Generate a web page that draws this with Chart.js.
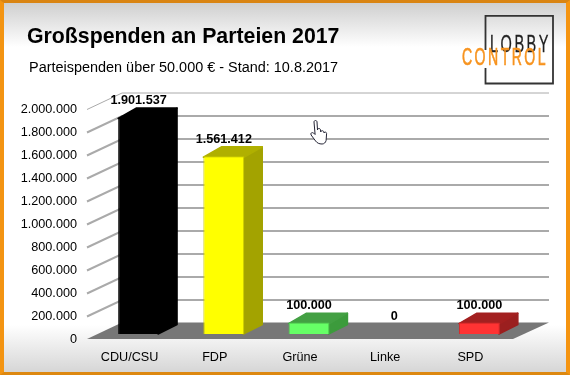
<!DOCTYPE html>
<html>
<head>
<meta charset="utf-8">
<script src="https://cdn.jsdelivr.net/npm/chart.js@4"></script>
<style>
  body { margin: 0; overflow: hidden; }
  #frame {
    position: absolute; left: 0; top: 0; width: 570px; height: 375px; box-sizing: border-box;
    border-style: solid; border-width: 3px 4px 3px 4px;
    border-color: #d98412 #f59410 #dd8810 #f39412;
    background: linear-gradient(#cfcfcf 0, #ffffff 44px, #ffffff 322px, #d6d6d6 369px);
  }
  canvas { position: absolute; left: 0; top: 0; }
  .txt { position: absolute; font-family: "Liberation Sans", Arial, sans-serif; color: #000; white-space: nowrap; }
  #title { left: 27px; top: 24px; font-size: 21.3px; font-weight: bold; }
  #subtitle { left: 29px; top: 59px; font-size: 14.45px; }
  svg { position: absolute; left: 0; top: 0; }
</style>
</head>
<body>
<div id="frame"></div>
<canvas id="spendenChart" width="570" height="375"></canvas>
<div class="txt" id="title">Großspenden an Parteien 2017</div>
<div class="txt" id="subtitle">Parteispenden über 50.000 € - Stand: 10.8.2017</div>
<svg width="570" height="375">
  <!-- logo -->
  <path d="M485.500 50 V15.800 H553 V83.500 H485.500 V68" fill="none" stroke="#333" stroke-width="1.800"/>
  <text x="490" y="52" font-family="Liberation Sans" font-size="23" letter-spacing="4" textLength="61" lengthAdjust="spacingAndGlyphs" fill="#222" stroke="#222" stroke-width="0.300">LOBBY</text>
  <text x="462" y="65" font-family="Liberation Sans" font-size="23" letter-spacing="4" textLength="86" lengthAdjust="spacingAndGlyphs" fill="#f7931e" stroke="#f7931e" stroke-width="0.600">CONTROL</text>
  <!-- mouse pointer -->
  <path d="M314 122 c0 -2 3 -2 3 0 l0.500 8 c0 -2 3 -2 3 0 l0.300 2 c0 -2 3 -1.500 3 0 l0.300 1 c0.500 -1.500 2.500 -1 2.500 0.500 l-0.500 7 c-0.500 2 -2 3.500 -4 3.500 c-3 0 -5 -1 -6.500 -3 l-4.500 -6 c-1 -2 1 -3 2.500 -2 l1.500 1.500 z" fill="#fff" stroke="#223" stroke-width="1"/>
</svg>
<script>
// Values
const parties = ['CDU/CSU', 'FDP', 'Grüne', 'Linke', 'SPD'];
const donations = [1901537, 1561412, 100000, 0, 100000];
const donationLabels = ['1.901.537', '1.561.412', '100.000', '0', '100.000'];
const yTickLabels = ['0', '200.000', '400.000', '600.000', '800.000', '1.000.000', '1.200.000', '1.400.000', '1.600.000', '1.800.000', '2.000.000'];
const frontColors = ['#000000', '#ffff00', '#66ff66', '#000000', '#ff3333'];
const edgeColors = ['#000000', '#c9c900', '#4fc94f', '#000000', '#d92b2b'];
const sideColors = ['#000000', '#a3a300', '#3c9b3c', '#000000', '#9b1f1f'];
const topColors = ['#000000', '#b0b000', '#43a043', '#000000', '#a32020'];

// Fake 3D: back wall, floor, bar depth and value labels
const wallX = 35, wallY = 17.5;
const barShiftX = 9, barShiftY = 6;
const depthX = 18, depthY = 9.5;
const foreshorten = 0.99; // bars stand further back than the axis plane

const fake3d = {
  id: 'fake3d',
  beforeDatasetsDraw(chart) {
    const ctx = chart.ctx;
    const x = chart.scales.x, y = chart.scales.y;
    const y0 = y.getPixelForValue(0);

    // floor
    ctx.fillStyle = '#777777';
    ctx.beginPath();
    ctx.moveTo(x.left, y0 - 1);
    ctx.lineTo(x.right, y0 - 1);
    ctx.lineTo(x.right + wallX + 1, y0 - wallY);
    ctx.lineTo(x.left + wallX, y0 - wallY);
    ctx.closePath();
    ctx.fill();

    // grid lines on side and back wall
    ctx.strokeStyle = '#aaaaaa';
    y.ticks.forEach((tick, i) => {
      if (tick.value === 0) return;
      const py = y.getPixelForValue(tick.value);
      ctx.lineWidth = i === y.ticks.length - 1 ? 1 : 2;
      ctx.beginPath();
      ctx.moveTo(x.left, py - 0.5);
      ctx.lineTo(x.left + wallX, py - wallY + 0.5);
      ctx.lineTo(x.right + wallX + 1, py - wallY + 0.5);
      ctx.stroke();
    });

    // side and top faces, then shift the bars themselves back onto the floor
    ctx.save();
    ctx.translate(barShiftX, -barShiftY);
    ctx.translate(0, y0);
    ctx.scale(1, foreshorten);
    ctx.translate(0, -y0);
    ctx.lineJoin = 'round';
    ctx.lineWidth = 1.5;
    chart.getDatasetMeta(0).data.forEach((bar, i) => {
      if (donations[i] === 0) return;
      const left = bar.x - bar.width / 2, right = bar.x + bar.width / 2;
      ctx.fillStyle = ctx.strokeStyle = sideColors[i];
      ctx.beginPath();
      ctx.moveTo(right - 1, bar.y);
      ctx.lineTo(right + depthX, bar.y - depthY);
      ctx.lineTo(right + depthX, bar.base - depthY);
      ctx.lineTo(right - 1, bar.base);
      ctx.closePath();
      ctx.fill();
      ctx.stroke();
      ctx.fillStyle = ctx.strokeStyle = topColors[i];
      ctx.beginPath();
      ctx.moveTo(left, bar.y + 1);
      ctx.lineTo(left + depthX, bar.y - depthY);
      ctx.lineTo(right + depthX, bar.y - depthY);
      ctx.lineTo(right, bar.y + 1);
      ctx.closePath();
      ctx.fill();
      ctx.stroke();
    });
  },
  afterDatasetsDraw(chart) {
    const ctx = chart.ctx;
    const y0 = chart.scales.y.getPixelForValue(0);
    ctx.restore();
    ctx.fillStyle = '#000';
    ctx.font = 'bold 12.67px "Liberation Sans"';
    ctx.textAlign = 'center';
    ctx.textBaseline = 'middle';
    chart.getDatasetMeta(0).data.forEach((bar, i) => {
      const top = y0 - barShiftY + (bar.y - y0) * foreshorten;
      ctx.fillText(donationLabels[i], bar.x + barShiftX, top - 17);
    });
  }
};

new Chart(document.getElementById('spendenChart'), {
  type: 'bar',
  data: {
    labels: parties,
    datasets: [{
      data: donations,
      backgroundColor: frontColors,
      borderColor: edgeColors,
      borderWidth: 1,
      barPercentage: 0.48,
      categoryPercentage: 1,
      clip: false
    }]
  },
  options: {
    responsive: false,
    animation: false,
    layout: { padding: { left: 0, right: 57, top: 110, bottom: 0 } },
    plugins: { legend: { display: false }, tooltip: { enabled: false } },
    scales: {
      x: {
        grid: { display: false, drawTicks: false },
        border: { display: false },
        ticks: { color: '#000', padding: 10, maxRotation: 0, font: { family: 'Liberation Sans', size: 12.67 } },
        afterFit(scale) { scale.height = 35; }
      },
      y: {
        min: 0,
        max: 2000000,
        grid: { display: false, drawTicks: false },
        border: { display: false },
        ticks: {
          stepSize: 200000,
          color: '#000',
          padding: 10,
          font: { family: 'Liberation Sans', size: 12.67 },
          callback: (value, index) => yTickLabels[index]
        },
        afterFit(scale) { scale.width = 87; }
      }
    }
  },
  plugins: [fake3d]
});
</script>
</body>
</html>
